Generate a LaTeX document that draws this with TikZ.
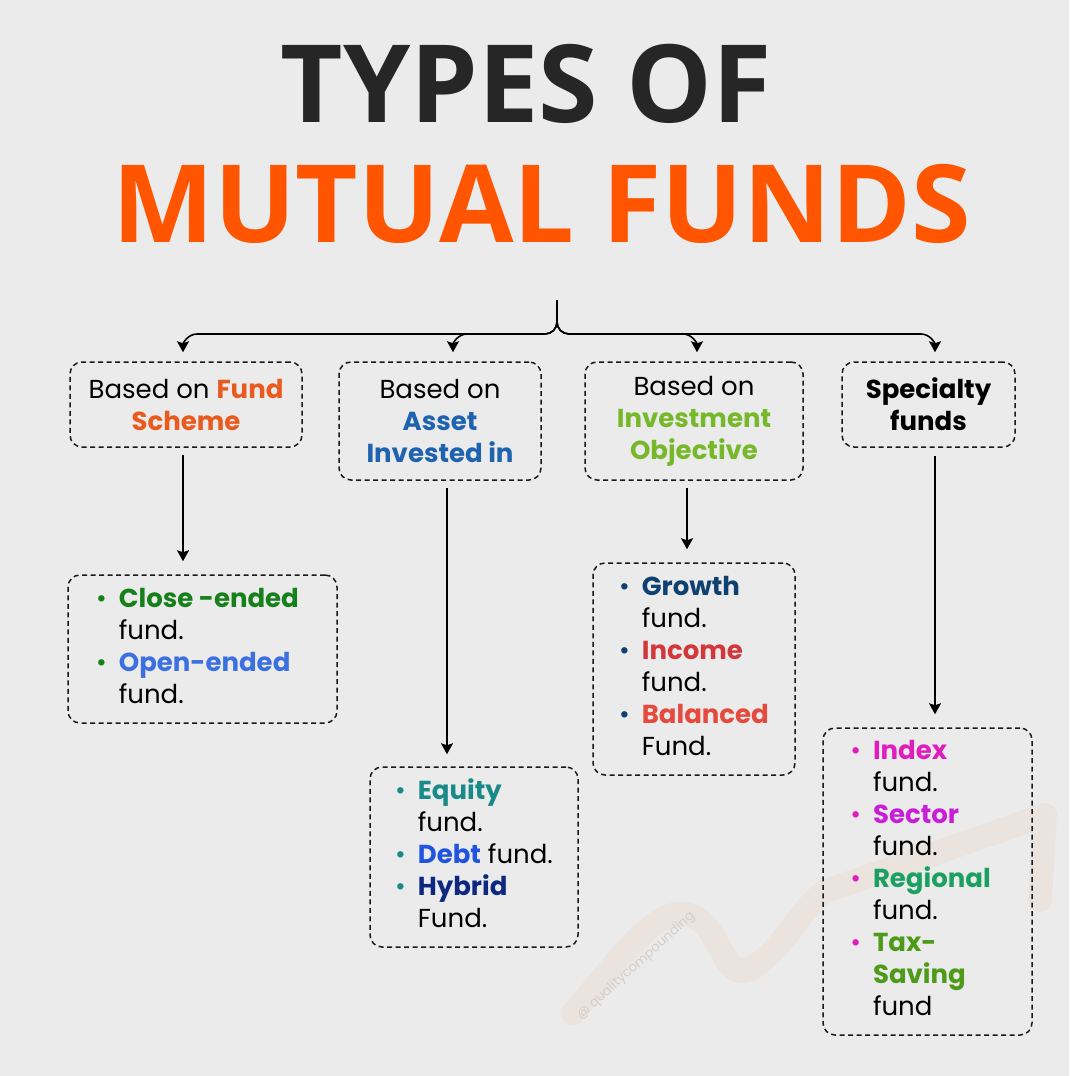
\documentclass[tikz,border=0pt]{standalone}
\usepackage{fontspec}
\setmainfont{Poppins}
\newfontfamily\titlefont{Open Sans}
\usetikzlibrary{arrows.meta,calc}
\definecolor{bg}{RGB}{235,235,235}
\definecolor{titledark}{RGB}{38,38,38}
\definecolor{titleorange}{RGB}{255,85,0}
\definecolor{cfund}{RGB}{234,90,30}
\definecolor{casset}{RGB}{30,98,176}
\definecolor{cobj}{RGB}{118,184,42}
\definecolor{cclose}{RGB}{22,128,26}
\definecolor{copen}{RGB}{60,112,224}
\definecolor{cequity}{RGB}{24,138,138}
\definecolor{cdebt}{RGB}{32,84,224}
\definecolor{chybrid}{RGB}{14,40,128}
\definecolor{cgrowth}{RGB}{14,64,112}
\definecolor{cincome}{RGB}{210,56,58}
\definecolor{cbal}{RGB}{228,74,62}
\definecolor{cindex}{RGB}{224,30,190}
\definecolor{csector}{RGB}{200,30,216}
\definecolor{cregion}{RGB}{26,160,96}
\definecolor{ctax}{RGB}{78,154,26}
\definecolor{wmark}{RGB}{240,140,80}
\definecolor{wmtext}{RGB}{212,206,202}
\newcommand\bul[1]{\textcolor{#1}{\textbullet}}
\tikzset{
  boxline/.style={draw=black!90, line width=1.5pt, dash pattern=on 5pt off 3.5pt, rounded corners=12pt},
  catbox/.style={boxline, inner sep=0pt, align=center, font=\fontsize{26}{32}\selectfont},
  listbox/.style={boxline, inner sep=0pt, font=\fontsize{26}{32}\selectfont},
  wire/.style={line width=1.6pt, black},
  conn/.style={wire, -{Stealth[length=11pt,width=12pt,inset=2pt]}},
  titletext/.style={inner sep=0pt, font=\titlefont\bfseries\fontsize{108}{120}\selectfont}
}
\begin{document}
\begin{tikzpicture}[x=1pt,y=-1pt]
\useasboundingbox (0,0) rectangle (1069,1076);
\fill[bg] (0,0) rectangle (1069,1076);

% watermark
\draw[wmark, opacity=0.08, line width=24pt, line cap=round, line join=round]
  (573,1013) .. controls (620,960) and (655,905) .. (690,915)
  .. controls (722,925) and (722,985) .. (752,968)
  .. controls (790,945) and (805,895) .. (835,888)
  -- (1045,815) -- (1040,900);
\node[rotate=42, text=wmtext, font=\fontsize{13}{15}\selectfont] (wm) at (636,966) {@ qualitycompounding};

% title
\node[titletext, text=titledark] (t1) at (526,84) {TYPES OF};
\node[titletext, text=titleorange] (t2) at (541.5,204) {MUTUAL FUNDS};

% category boxes
\node[catbox, minimum width=232pt, minimum height=85pt] (b1) at (186,404.5)
  {Based on \textbf{\color{cfund}Fund}\\\textbf{\color{cfund}Scheme}};
\node[catbox, minimum width=202pt, minimum height=118pt] (b2) at (440,421)
  {Based on\\\textbf{\color{casset}Asset}\\\textbf{\color{casset}Invested in}};
\node[catbox, minimum width=218pt, minimum height=118pt] (b3) at (694,421)
  {Based on\\\textbf{\color{cobj}Investment}\\\textbf{\color{cobj}Objective}};
\node[catbox, minimum width=173pt, minimum height=85pt] (b4) at (928.5,404.5)
  {\textbf{Specialty}\\\textbf{funds}};

% list boxes
\node[listbox, minimum width=269pt, minimum height=148pt] (l1) at (202.5,649)
  {\begin{tabular}{@{}c@{\hspace{12pt}}l@{}}
   \bul{cclose} & \textbf{\color{cclose}Close -ended}\\
    & fund.\\
   \bul{cclose} & \textbf{\color{copen}Open-ended}\\
    & fund.
   \end{tabular}\kern10pt};
\node[listbox, minimum width=208pt, minimum height=180pt] (l2) at (474,857)
  {\begin{tabular}{@{}c@{\hspace{12pt}}l@{}}
   \bul{cequity} & \textbf{\color{cequity}Equity}\\
    & fund.\\
   \bul{cequity} & \textbf{\color{cdebt}Debt} fund.\\
   \bul{cequity} & \textbf{\color{chybrid}Hybrid}\\
    & Fund.
   \end{tabular}};
\node[listbox, minimum width=202pt, minimum height=212pt] (l3) at (694,669)
  {\begin{tabular}{@{}c@{\hspace{12pt}}l@{}}
   \bul{cgrowth} & \textbf{\color{cgrowth}Growth}\\
    & fund.\\
   \bul{cgrowth} & \textbf{\color{cincome}Income}\\
    & fund.\\
   \bul{cgrowth} & \textbf{\color{cbal}Balanced}\\
    & Fund.
   \end{tabular}};
\node[listbox, minimum width=209pt, minimum height=307pt] (l4) at (927.5,881.5)
  {\begin{tabular}{@{}c@{\hspace{12pt}}l@{}}
   \bul{cindex} & \textbf{\color{cindex}Index}\\
    & fund.\\
   \bul{cindex} & \textbf{\color{csector}Sector}\\
    & fund.\\
   \bul{cindex} & \textbf{\color{cregion}Regional}\\
    & fund.\\
   \bul{cindex} & \textbf{\color{ctax}Tax-}\\
    & \textbf{\color{ctax}Saving}\\
    & fund
   \end{tabular}\kern14pt};

% brace and top connectors
\coordinate (stem) at (557,300);
\coordinate (fork) at (557,322);
\draw[wire] (stem) -- (fork);
\draw[conn] (fork) to[out=-90,in=0] (545,334) -- (197,334) to[out=180,in=90] ([xshift=-3pt,yshift=9pt]b1.north);
\draw[conn] (fork) to[out=-90,in=0] (545,334) -- (467,334) to[out=180,in=90] ([xshift=13pt,yshift=9pt]b2.north);
\draw[conn] (fork) to[out=-90,in=180] (569,334) -- (683,334) to[out=0,in=90] ([xshift=3pt,yshift=9pt]b3.north);
\draw[conn] (fork) to[out=-90,in=180] (569,334) -- (921,334) to[out=0,in=90] ([xshift=6.5pt,yshift=9pt]b4.north);

% vertical connectors
\draw[conn] ([xshift=-3pt,yshift=-7pt]b1.south) -- ([xshift=-3pt,yshift=13pt]b1.south |- l1.north);
\draw[conn] ([xshift=7pt,yshift=-7pt]b2.south) -- ([xshift=7pt,yshift=12pt]b2.south |- l2.north);
\draw[conn] ([xshift=-7pt,yshift=-7pt]b3.south) -- ([xshift=-7pt,yshift=13pt]b3.south |- l3.north);
\draw[conn] ([xshift=6.5pt,yshift=-8pt]b4.south) -- ([xshift=6.5pt,yshift=13pt]b4.south |- l4.north);
\end{tikzpicture}
\end{document}
